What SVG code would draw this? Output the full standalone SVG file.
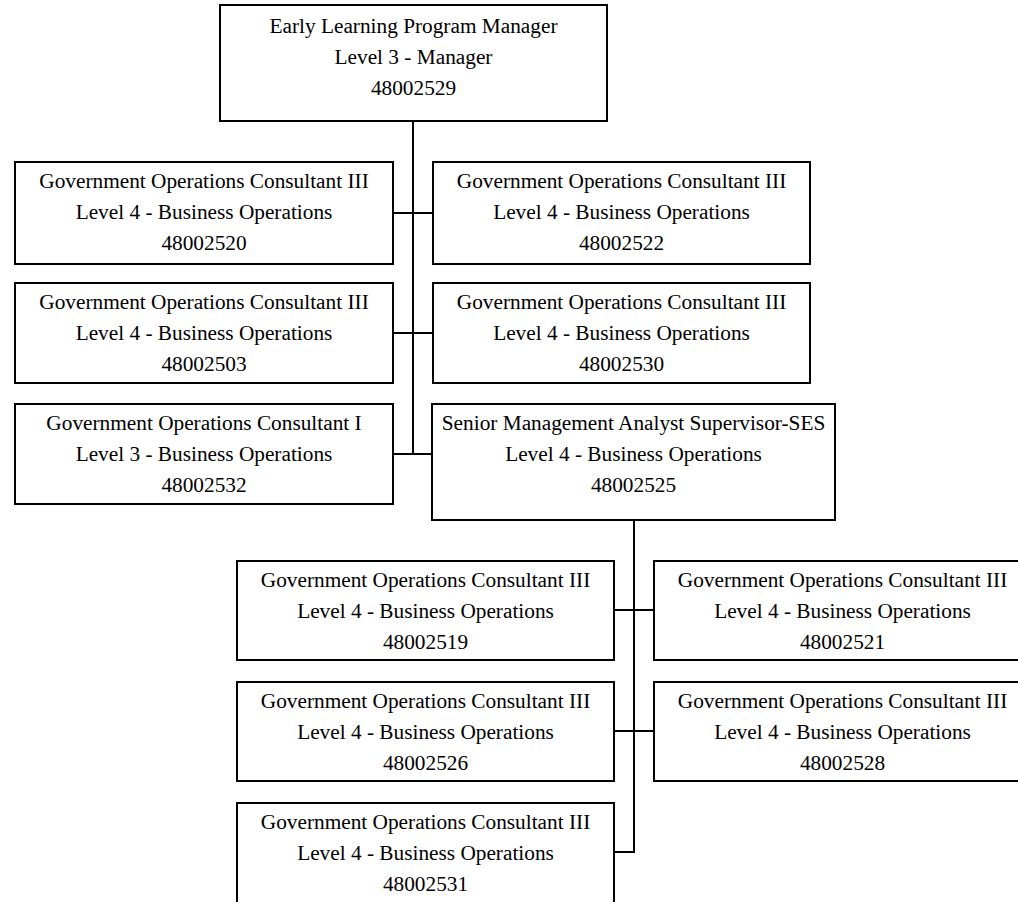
<svg xmlns="http://www.w3.org/2000/svg" width="1018" height="902" viewBox="0 0 1018 902">
<style>
  .box { fill: #ffffff; stroke: #000000; stroke-width: 2; }
  .t { font-family: "Liberation Serif", "Times New Roman", serif; font-size: 21.3px; fill: #000000; text-anchor: middle; }
  .c { stroke: #000000; stroke-width: 2; fill: none; }
</style>
<rect width="1018" height="902" fill="#ffffff"/>
<g id="connectors">
  <path class="c" d="M413,121 V454"/>
  <path class="c" d="M393,213 H433"/>
  <path class="c" d="M393,333 H433"/>
  <path class="c" d="M393,454 H432"/>
  <path class="c" d="M634,520 V852 H614"/>
  <path class="c" d="M614,610 H654"/>
  <path class="c" d="M614,731 H654"/>
</g>
<g id="n48002529">
  <rect class="box" x="220" y="5" width="387" height="116"/>
  <text class="t" x="413.5" y="33">Early Learning Program Manager</text>
  <text class="t" x="413.5" y="64">Level 3 - Manager</text>
  <text class="t" x="413.5" y="95">48002529</text>
</g>
<g id="n48002520">
  <rect class="box" x="15" y="162" width="378" height="102"/>
  <text class="t" x="204" y="188">Government Operations Consultant III</text>
  <text class="t" x="204" y="219">Level 4 - Business Operations</text>
  <text class="t" x="204" y="250">48002520</text>
</g>
<g id="n48002522">
  <rect class="box" x="433" y="162" width="377" height="102"/>
  <text class="t" x="621.5" y="188">Government Operations Consultant III</text>
  <text class="t" x="621.5" y="219">Level 4 - Business Operations</text>
  <text class="t" x="621.5" y="250">48002522</text>
</g>
<g id="n48002503">
  <rect class="box" x="15" y="283" width="378" height="100"/>
  <text class="t" x="204" y="309">Government Operations Consultant III</text>
  <text class="t" x="204" y="340">Level 4 - Business Operations</text>
  <text class="t" x="204" y="371">48002503</text>
</g>
<g id="n48002530">
  <rect class="box" x="433" y="283" width="377" height="100"/>
  <text class="t" x="621.5" y="309">Government Operations Consultant III</text>
  <text class="t" x="621.5" y="340">Level 4 - Business Operations</text>
  <text class="t" x="621.5" y="371">48002530</text>
</g>
<g id="n48002532">
  <rect class="box" x="15" y="404" width="378" height="100"/>
  <text class="t" x="204" y="430">Government Operations Consultant I</text>
  <text class="t" x="204" y="461">Level 3 - Business Operations</text>
  <text class="t" x="204" y="492">48002532</text>
</g>
<g id="n48002525">
  <rect class="box" x="432" y="404" width="403" height="116"/>
  <text class="t" x="633.5" y="430">Senior Management Analyst Supervisor-SES</text>
  <text class="t" x="633.5" y="461">Level 4 - Business Operations</text>
  <text class="t" x="633.5" y="492">48002525</text>
</g>
<g id="n48002519">
  <rect class="box" x="237" y="561" width="377" height="99"/>
  <text class="t" x="425.5" y="587">Government Operations Consultant III</text>
  <text class="t" x="425.5" y="618">Level 4 - Business Operations</text>
  <text class="t" x="425.5" y="649">48002519</text>
</g>
<g id="n48002521">
  <rect class="box" x="654" y="561" width="377" height="99"/>
  <text class="t" x="842.5" y="587">Government Operations Consultant III</text>
  <text class="t" x="842.5" y="618">Level 4 - Business Operations</text>
  <text class="t" x="842.5" y="649">48002521</text>
</g>
<g id="n48002526">
  <rect class="box" x="237" y="682" width="377" height="99"/>
  <text class="t" x="425.5" y="708">Government Operations Consultant III</text>
  <text class="t" x="425.5" y="739">Level 4 - Business Operations</text>
  <text class="t" x="425.5" y="770">48002526</text>
</g>
<g id="n48002528">
  <rect class="box" x="654" y="682" width="377" height="99"/>
  <text class="t" x="842.5" y="708">Government Operations Consultant III</text>
  <text class="t" x="842.5" y="739">Level 4 - Business Operations</text>
  <text class="t" x="842.5" y="770">48002528</text>
</g>
<g id="n48002531">
  <rect class="box" x="237" y="803" width="377" height="100"/>
  <text class="t" x="425.5" y="829">Government Operations Consultant III</text>
  <text class="t" x="425.5" y="860">Level 4 - Business Operations</text>
  <text class="t" x="425.5" y="891">48002531</text>
</g>
</svg>
